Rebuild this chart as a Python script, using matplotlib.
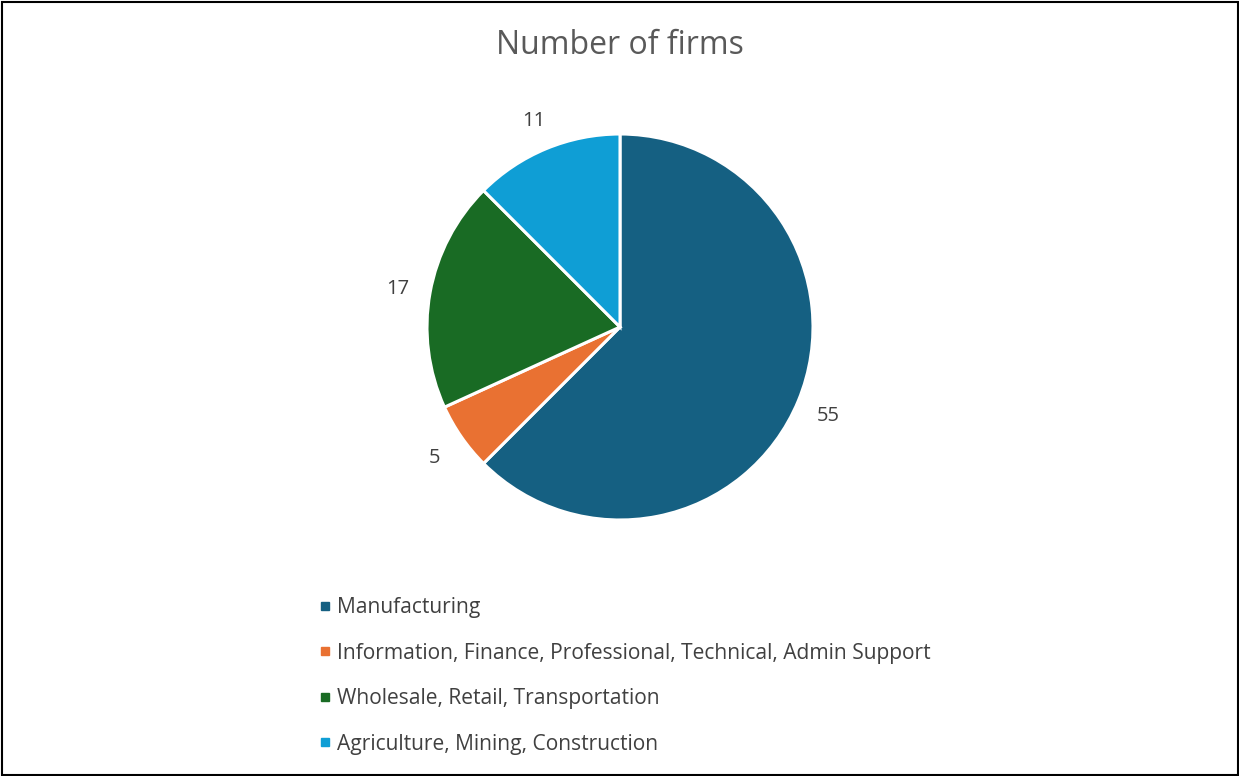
import matplotlib
matplotlib.use('Agg')
import matplotlib.pyplot as plt
from matplotlib.lines import Line2D
from matplotlib.patches import Rectangle

# Firm counts by sector
sectors = ['Manufacturing',
           'Information, Finance, Professional, Technical, Admin Support',
           'Wholesale, Retail, Transportation',
           'Agriculture, Mining, Construction']
firms = [55, 5, 17, 11]
colors = ['#156082', '#E97132', '#196B24', '#0F9ED5']

plt.rcParams['font.family'] = ['Open Sans', 'DejaVu Sans']

W, H = 1239, 776
fig = plt.figure(figsize=(W / 100, H / 100), dpi=100)

# pie axes: centre (620, 327) px, radius 193 px
cx, cy, r = 620, 327, 193
ax = fig.add_axes([(cx - r) / W, 1 - (cy + r) / H, 2 * r / W, 2 * r / H])
wedges, texts = ax.pie(firms, colors=colors, startangle=90, counterclock=False,
                       radius=1, labels=[str(v) for v in firms],
                       labeldistance=1.17,
                       textprops=dict(fontsize=14.5, color='#404040'),
                       wedgeprops=dict(edgecolor='white', linewidth=2.2))
for t in texts:
    t.set_horizontalalignment('center')
    t.set_verticalalignment('center_baseline')
ax.set_xlim(-1, 1)
ax.set_ylim(-1, 1)
ax.set_aspect('equal')
ax.axis('off')

fig.text(0.5, 1 - 46 / H, 'Number of firms', ha='center', va='center',
         fontsize=23, color='#595959')

# legend below the pie
handles = [Line2D([], [], marker='s', linestyle='none', markersize=5.5,
                  markerfacecolor=c, markeredgecolor=c) for c in colors]
fig.legend(handles, sectors, loc='upper left',
           bbox_to_anchor=(317 / W, 1 - 597 / H), frameon=False,
           fontsize=15.1, labelcolor='#404040', handletextpad=0.15,
           handlelength=0.8, labelspacing=1.17, borderpad=0,
           borderaxespad=0)

# outer frame
fig.patches.append(Rectangle((1.5 / W, 1.5 / H), 1 - 3 / W, 1 - 3 / H,
                             transform=fig.transFigure, fill=False,
                             edgecolor='black', linewidth=1.5))

fig.savefig('out.png', dpi=100)
